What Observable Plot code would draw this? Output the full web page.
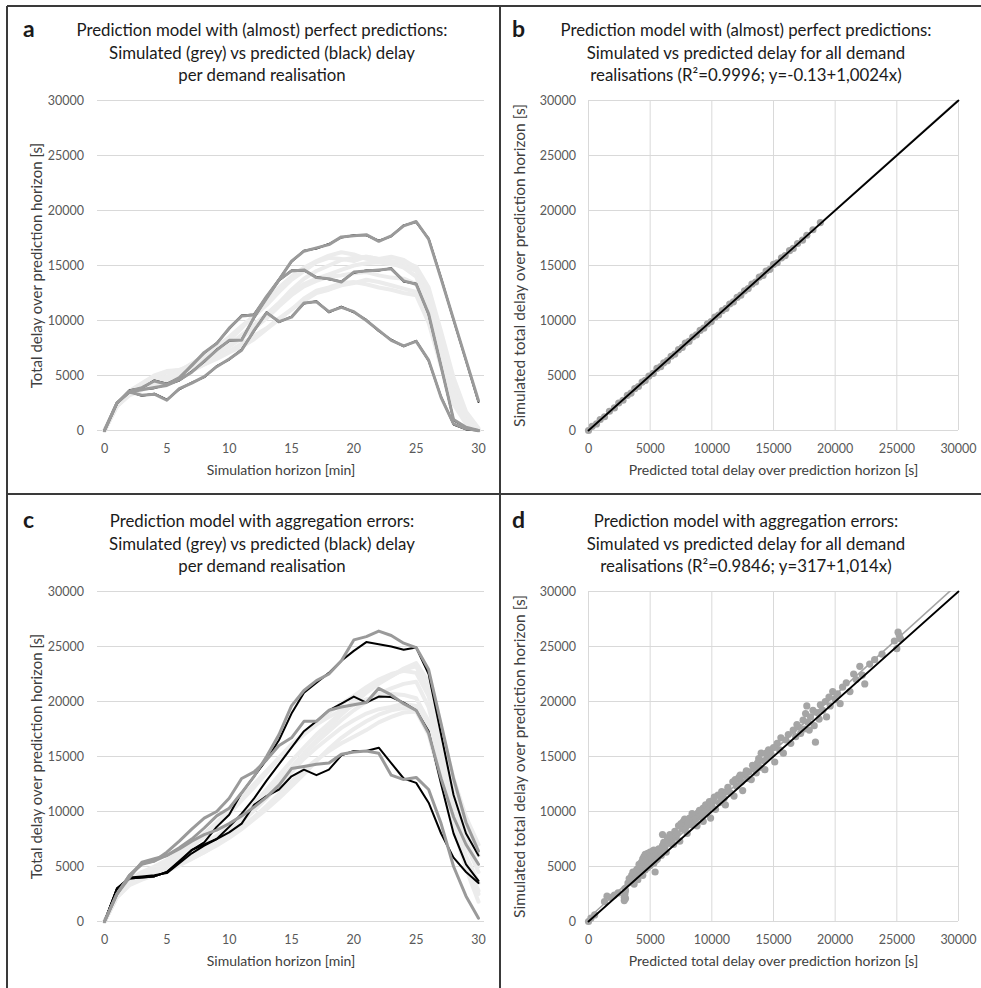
<!DOCTYPE html>
<html><head><meta charset="utf-8">
<script src="https://cdn.jsdelivr.net/npm/d3@7"></script>
<script src="https://cdn.jsdelivr.net/npm/@observablehq/plot@0.6"></script>
<style>
body{margin:0;background:#fff;}
#fig{position:relative;width:981px;height:988px;overflow:hidden;background:#fff;}
</style></head><body><div id="fig"></div><script>
// ---------- data ----------
const minutes = [0,1,2,3,4,5,6,7,8,9,10,11,12,13,14,15,16,17,18,19,20,21,22,23,24,25,26,27,28,29,30];
const xTicksMin = [0,5,10,15,20,25,30];
const delayTicks = [0,5000,10000,15000,20000,25000,30000];

// panel a: simulated (grey) and predicted (black) highlighted realisations
const simA1 = [0,2500,3600,3900,4500,4200,4800,5900,7100,7900,9300,10400,10500,12200,13700,15400,16300,16600,16900,17600,17700,17800,17200,17700,18600,19000,17400,13800,10100,6400,2700];
const predA1 = [0,2450,3650,3850,4550,4250,4750,5950,7050,7950,9250,10450,10550,12150,13750,15350,16350,16550,16950,17550,17750,17750,17250,17650,18650,18950,17450,13850,10050,6350,2600];
const simA2 = [0,2500,3500,3700,3900,4100,4600,5300,6300,7300,8200,8200,10300,12000,13700,14500,14600,13900,13800,13500,14400,14500,14600,14700,13600,13300,10600,5800,1000,300,0];
const predA2 = [0,2550,3450,3750,3850,4150,4550,5350,6250,7350,8150,8250,10250,12050,13650,14550,14550,13950,13750,13550,14350,14550,14550,14750,13550,13350,10550,5850,950,250,0];
const simA3 = [0,2500,3500,3200,3300,2750,3800,4300,4900,5800,6500,7300,9100,10700,9900,10300,11600,11700,10800,11200,10800,10000,9100,8200,7700,8100,6400,3000,600,150,0];
const predA3 = [0,2450,3550,3150,3350,2800,3750,4350,4850,5850,6450,7350,9050,10750,9850,10350,11550,11750,10750,11250,10750,10050,9050,8250,7650,8150,6350,3050,550,100,0];
// panel a: other demand realisations (light grey)
const bgA1 = [0,2300,3400,4000,4700,5300,5500,5800,6400,7000,7800,8700,9600,10600,11600,12800,13800,14500,15000,15500,15700,15800,15600,15800,15500,14800,12000,7500,3500,1000,0];
const bgA2 = [0,2400,3600,4300,5000,5400,5500,6000,6600,7300,8200,9300,10500,11800,13000,14000,14800,15400,15900,16200,16000,15600,15400,15200,14800,14000,11000,6500,2800,800,0];
const bgA3 = [0,2200,3300,3800,4200,4600,5000,5400,6000,6600,7200,7900,8600,9300,10200,11000,11800,12500,12800,13200,13400,13700,13500,13200,12900,12600,10200,6400,3000,900,0];
const bgA4 = [0,2300,3500,4100,4500,4900,5300,5900,6500,7100,7700,8500,9400,10500,11600,12600,13300,13800,14200,14600,15000,15200,15300,15100,15000,14500,12500,8500,4200,1300,100];
const bgA5 = [0,2200,3200,3700,4000,4400,4900,5500,6000,6500,7100,7600,8300,9200,10100,11000,12000,12700,13000,13400,13500,13300,13000,12800,12500,12300,9800,5800,2400,600,0];
const bgA6 = [0,2300,3400,3900,4400,4900,5400,6100,6800,7600,8500,9500,10400,11400,12600,13700,14500,15300,15700,15600,15400,15800,15600,15400,15300,14900,13000,9000,4800,1700,200];
const bgA7 = [0,2400,3500,4000,4300,4700,5100,5600,6200,6900,7600,8400,9300,10200,11300,12300,13100,13600,14000,14100,14300,14400,14100,13900,13800,13300,11000,6800,3200,900,0];

// panel c
const simC1 = [0,2500,4000,5400,5700,6000,6700,7500,8500,9600,10300,11700,13200,15000,17000,19600,21000,21900,22500,23700,25600,25900,26400,26000,25300,24900,22900,18000,13000,9000,6400];
const predC1 = [0,3000,3900,4000,4100,4500,5500,6500,7200,8600,9700,11700,13200,14700,16500,18900,20800,21700,22600,23700,24600,25400,25200,25000,24700,24900,22500,17000,11500,8000,6000];
const simC2 = [0,2500,4200,5200,5500,6300,7300,8400,9400,10000,11200,13000,13600,14700,16000,16700,18200,18200,19200,19500,19700,19900,21200,20600,19800,19200,17100,13000,9500,7000,5200];
const predC2 = [0,3000,4000,4100,4200,4400,5300,6200,6900,7500,8600,9800,11200,12800,14300,15800,17300,18200,19200,19800,20450,19900,20450,20400,19900,19200,17300,12500,8000,5200,3700];
const simC3 = [0,2500,4200,5300,5500,6000,6600,7300,7900,8300,8900,9600,10400,11300,12400,13900,14100,14300,14400,15200,15400,15500,15300,13300,12900,13100,12000,8900,5000,2300,300];
const predC3 = [0,3000,3900,4000,4100,4500,5400,6500,7000,7500,8100,8900,10600,11400,12000,13200,13800,13300,13800,15100,15500,15500,15800,14400,13000,12600,10800,8000,5800,4500,3500];
const bgC1 = [0,2400,3700,4300,4700,5200,5800,6400,7100,7800,8600,9500,10500,11600,12800,14000,15200,16300,17300,18300,19200,20000,20700,21200,21600,21800,19500,15000,10500,7000,4500];
const bgC2 = [0,2300,3500,4100,4500,5000,5600,6200,6900,7700,8500,9400,10400,11500,12700,14000,15300,16500,17700,18800,19800,20800,21600,22300,22900,23200,21000,16500,12000,8500,6000];
const bgC3 = [0,2200,3400,3900,4300,4700,5200,5700,6300,6900,7600,8400,9300,10200,11200,12300,13400,14600,15700,16700,17500,18200,18800,19200,19400,19300,17200,13000,8800,5300,2800];
const bgC4 = [0,2300,3600,4200,4700,5300,6000,6800,7700,8700,9800,11000,12200,13500,14800,16000,17000,17900,18600,19200,19700,20200,20400,20700,20600,20300,18200,13800,9500,6000,3500];
const bgC5 = [0,2400,3800,4500,5000,5600,6300,7100,8000,9000,10100,11300,12500,13700,14900,16100,17100,18100,19000,19800,20500,21300,22000,22500,22800,22600,20500,16000,11200,7500,5000];
const bgC6 = [0,2200,3300,3800,4200,4600,5100,5700,6300,7000,7800,8600,9500,10500,11600,12700,13800,14700,15500,16200,16800,17400,18100,18600,19000,19100,17000,12800,8500,4800,1800];
const bgC7 = [0,2300,3600,4200,4600,5100,5700,6300,7000,7700,8500,9500,10700,12000,13300,14600,15800,17000,18000,19000,20100,21000,21800,22300,23000,23500,21800,17500,13000,9500,7000];
const bgC8 = [0,2300,3500,4000,4400,4900,5400,6000,6700,7400,8200,9100,10100,11200,12400,13600,14800,15800,16700,17600,18300,18900,19300,19500,19800,19600,17500,13300,9300,5800,2500];

// panel b: predicted (x) vs simulated (y)
const predB = [0,300,650,950,1300,1700,2100,2450,2800,3150,3450,3750,4050,4350,4600,4900,5250,5550,5850,6100,6400,6700,7000,7300,7600,7850,8150,8450,8750,9050,9350,9650,9950,10250,10550,10850,11150,11450,11750,12050,12350,12650,12950,13250,13550,13850,14150,14400,14700,15000,15300,15650,15950,16300,16600,16950,17350,17700,18200,18800];
const simB = [0,380,600,1000,1250,1750,2050,2500,2750,3200,3400,3800,4000,4400,4550,4950,5200,5650,5800,6150,6350,6750,6950,7350,7550,7950,8100,8500,8700,9100,9300,9700,9900,10300,10500,10900,11100,11500,11700,12100,12300,12700,12900,13300,13500,13950,14100,14500,14650,15100,15250,15700,15900,16350,16550,17000,17300,17750,18250,18900];
const trendB = {intercept: -0.13, slope: 1.0024};

// panel d
const predD = [0,200,500,1300,1500,1800,2100,2400,2900,2900,
2950,3000,2950,3000,3400,3500,3600,3700,3800,3900,
4000,4000,4100,4200,4300,4300,4400,4400,4500,4500,
4600,4600,4700,4700,4800,4800,4900,4900,5000,5000,
5100,5100,5200,5300,5300,5400,5500,5600,5800,6000,
6000,6200,6300,6500,6600,6800,6900,7000,7100,7300,
7400,7600,7700,7900,8000,8200,8300,8500,8600,8800,
8900,9100,9300,9300,9500,9600,9700,9800,9900,10000,
10100,10300,10500,10600,10800,11000,11100,11300,11500,11700,
11800,12000,12200,12400,12500,12700,12900,13000,13200,13400,
13600,13700,13900,14000,14200,14300,14500,14600,14800,15000,
15100,15300,15500,15600,15800,16000,16200,16400,16600,16800,
17000,17200,17400,17500,17600,17700,17800,17900,18000,18200,
18300,18400,18500,18700,18800,19000,19200,19300,19500,19600,
19800,20000,20200,20400,20600,20900,21200,21500,21700,22000,
22200,22400,22800,23200,23800,24800,25000,25100,25300,25200,
3200,3300,3600,3900,4100,4200,4300,4500,4600,4700,
4800,4900,5000,5100,5200,5400,5500,5700,5900,6100,
6400,6700,7200,7500,7800,8100,8400,8700,9000,9400,
10200,10700,11200,11900,12300,12800,13300,13800,14400,16900];
const simD = [0,300,600,1800,2300,2200,2400,2600,1900,2200,
2500,2800,3000,2100,3600,4200,3800,3400,4400,4100,
3800,4800,4300,5000,4600,5400,4200,5700,5000,5900,
4700,5500,6000,5200,5700,4900,6100,5400,5800,5100,
6200,5500,5900,5300,6500,4500,6100,5700,6400,6900,
7900,6800,6300,7300,7900,7500,7000,8200,7700,8700,
7300,8400,9100,8600,8000,9400,8800,9200,9700,8700,
9900,9500,10300,9100,10600,9900,10200,10900,9400,10500,
11000,10200,11500,10800,11800,11200,10600,12200,11700,12700,
11400,12300,13100,12700,11900,13400,13000,13600,12900,13900,
13500,14400,14000,15300,14600,13800,14900,15600,15200,15800,
14500,16200,15600,16700,15300,16500,17000,16200,17400,16800,
17700,17100,18300,17500,18900,19600,18100,17400,18600,19200,
17800,16300,19000,18400,19700,19200,20000,18600,20400,19600,
20900,20200,20700,19800,21300,21700,20900,22500,22000,23200,
22400,21600,23400,23800,24300,25500,24800,26300,25700,26000,
3500,3900,4500,4700,5200,4500,5000,5400,6100,5600,
6200,5800,6300,5800,6400,6000,5600,6600,6000,7200,
7600,7100,8000,8900,9300,9000,9800,9300,10100,9800,
11300,11400,11800,12900,13300,13700,14200,14800,15300,17900];
const trendD = {intercept: 317, slope: 1.014};
const diagonal = [0, 30000];

const titleA = ["Prediction model with (almost) perfect predictions:", "Simulated (grey) vs predicted (black) delay", "per demand realisation"];
const titleB = ["Prediction model with (almost) perfect predictions:", "Simulated vs predicted delay for all demand", "realisations (R²=0.9996; y=-0.13+1,0024x)"];
const titleC = ["Prediction model with aggregation errors:", "Simulated (grey) vs predicted (black) delay", "per demand realisation"];
const titleD = ["Prediction model with aggregation errors:", "Simulated vs predicted delay for all demand", "realisations (R²=0.9846; y=317+1,014x)"];
const labelTime = "Simulation horizon [min]";
const labelTotal = "Total delay over prediction horizon [s]";
const labelPred = "Predicted total delay over prediction horizon [s]";
const labelSim = "Simulated total delay over prediction horizon [s]";

// ---------- drawing ----------
const FONT = "Lato, 'Open Sans', sans-serif";
const GRID = "#d9d9d9";
const TICK = "#595959";
const fig = document.getElementById("fig");

function toRows(list) {
  return list.flatMap(([name, vals]) => vals.map((v, i) => ({t: minutes[i], v, s: name})));
}

function linePanel(bg, pred, sim) {
  return Plot.plot({
    width: 500, height: 400,
    marginLeft: 97, marginRight: 16, marginTop: 10, marginBottom: 60,
    x: {domain: [0, 30], insetLeft: 7, insetRight: 6, label: null},
    y: {domain: [0, 30000], label: null},
    style: {fontFamily: FONT, background: "transparent", color: TICK, overflow: "visible"},
    marks: [
      Plot.ruleY(delayTicks, {stroke: GRID, strokeWidth: 1}),
      Plot.line(toRows(bg), {x: "t", y: "v", z: "s", stroke: "#ececec", strokeWidth: 4}),
      Plot.line(toRows(pred), {x: "t", y: "v", z: "s", stroke: "#000", strokeWidth: 2}),
      Plot.line(toRows(sim), {x: "t", y: "v", z: "s", stroke: "#9a9a9a", strokeWidth: 3}),
      Plot.axisX({ticks: xTicksMin, tickSize: 0, tickPadding: 14, fontSize: 12.5, label: null, tickFormat: d => String(d)}),
      Plot.axisY({ticks: delayTicks, tickSize: 0, tickPadding: 13.5, fontSize: 12.5, label: null, tickFormat: d => String(d)}),
      Plot.text([labelTime], {frameAnchor: "bottom", dy: 40, dx: -10, fontSize: 14, fill: "#404040", lineAnchor: "middle"}),
      Plot.text([labelTotal], {frameAnchor: "left", textAnchor: "middle", dx: -60, rotate: -90, fontSize: 15, fill: "#404040", lineAnchor: "middle"})
    ]
  });
}

function scatterPanel(px, py, trend) {
  return Plot.plot({
    width: 481, height: 400,
    marginLeft: 88, marginRight: 23, marginTop: 10, marginBottom: 60,
    x: {domain: [0, 30000], label: null},
    y: {domain: [0, 30000], label: null},
    style: {fontFamily: FONT, background: "transparent", color: TICK, overflow: "visible"},
    marks: [
      Plot.ruleY(delayTicks, {stroke: GRID, strokeWidth: 1}),
      Plot.ruleX(delayTicks, {stroke: GRID, strokeWidth: 1}),
      Plot.dot(px, {x: px, y: py, r: 3.6, fill: "#a5a5a5", stroke: null}),
      Plot.line(diagonal, {x: d => d, y: d => trend.intercept + trend.slope * d, stroke: "#a5a5a5", strokeWidth: 1.6, clip: true}),
      Plot.line(diagonal, {x: d => d, y: d => d, stroke: "#000", strokeWidth: 1.8}),
      Plot.axisX({ticks: delayTicks, tickSize: 0, tickPadding: 14, fontSize: 12.5, label: null, tickFormat: d => String(d)}),
      Plot.axisY({ticks: delayTicks, tickSize: 0, tickPadding: 12.5, fontSize: 12.5, label: null, tickFormat: d => String(d)}),
      Plot.text([labelPred], {frameAnchor: "bottom", dy: 40, fontSize: 14, fill: "#404040", lineAnchor: "middle"}),
      Plot.text([labelSim], {frameAnchor: "left", textAnchor: "middle", dx: -68, rotate: -90, fontSize: 15.5, fill: "#404040", lineAnchor: "middle"})
    ]
  });
}

function place(el, left, top) {
  el.style.position = "absolute";
  el.style.left = left + "px";
  el.style.top = top + "px";
  fig.appendChild(el);
}

place(linePanel(
  [["r1", bgA1], ["r2", bgA2], ["r3", bgA3], ["r4", bgA4], ["r5", bgA5], ["r6", bgA6], ["r7", bgA7]],
  [["p1", predA1], ["p2", predA2], ["p3", predA3]],
  [["s1", simA1], ["s2", simA2], ["s3", simA3]]), 0, 90);
place(scatterPanel(predB, simB, trendB), 500, 90);
place(linePanel(
  [["r1", bgC1], ["r2", bgC2], ["r3", bgC3], ["r4", bgC4], ["r5", bgC5], ["r6", bgC6], ["r7", bgC7], ["r8", bgC8]],
  [["p1", predC1], ["p2", predC2], ["p3", predC3]],
  [["s1", simC1], ["s2", simC2], ["s3", simC3]]), 0, 581);
place(scatterPanel(predD, simD, trendD), 500, 581);

// overlay: titles, panel letters, frame lines
const ov = d3.create("svg").attr("width", 981).attr("height", 988)
  .style("position", "absolute").style("left", "0px").style("top", "0px")
  .style("pointer-events", "none").style("font-family", FONT);
const frame = [[7, 6, 981, 6], [7, 6, 7, 988], [500, 6, 500, 988], [7, 494, 981, 494]];
ov.selectAll("line").data(frame).join("line")
  .attr("x1", d => d[0]).attr("y1", d => d[1]).attr("x2", d => d[2]).attr("y2", d => d[3])
  .attr("stroke", "#3a3a3a").attr("stroke-width", 2);
const panels = [
  {tag: "a", lines: titleA, cx: 262, tx: 23, base: 36},
  {tag: "b", lines: titleB, cx: 746, tx: 512, base: 36},
  {tag: "c", lines: titleC, cx: 262, tx: 23, base: 527},
  {tag: "d", lines: titleD, cx: 746, tx: 512, base: 527}
];
for (const p of panels) {
  ov.append("text").attr("x", p.tx).attr("y", p.base + 1).text(p.tag)
    .attr("font-size", 23).attr("font-weight", "bold").attr("fill", "#1a1a1a");
  p.lines.forEach((s, i) => {
    ov.append("text").attr("x", p.cx).attr("y", p.base + i * 22.5).attr("text-anchor", "middle")
      .attr("font-size", 16.8).attr("fill", "#1a1a1a").text(s);
  });
}
fig.appendChild(ov.node());
</script></body></html>
